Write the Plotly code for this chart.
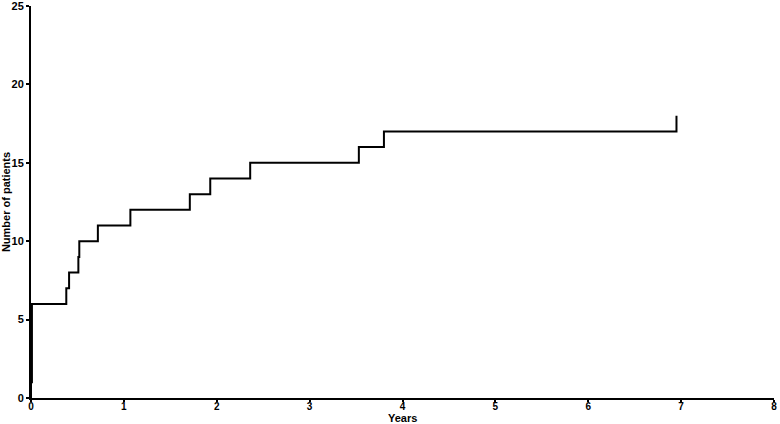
import plotly.graph_objects as go

# Cumulative number of patients over time (step curve)
anos = [0, 0, 0.01, 0.38, 0.41, 0.51, 0.52, 0.72, 1.07, 1.71, 1.93, 2.36, 3.53, 3.80, 6.95]
pacientes = [0, 1, 6, 7, 8, 9, 10, 11, 12, 13, 14, 15, 16, 17, 18]

ticks_x = [0, 1, 2, 3, 4, 5, 6, 7, 8]
ticks_y = [0, 5, 10, 15, 20, 25]

fonte = dict(family='Liberation Sans, Arial, sans-serif', size=11, color='black', weight='bold')
fonte_x = dict(fonte, size=10)

fig = go.Figure()

fig.add_trace(
    go.Scatter(
        x=anos,
        y=pacientes,
        mode='lines',
        line=dict(color='black', width=2, shape='hv'),
        showlegend=False,
        hoverinfo='skip'
    )
)

fig.update_layout(
    width=780,
    height=424,
    margin=dict(l=31, r=6, t=6, b=26),
    paper_bgcolor='white',
    plot_bgcolor='white',
    font=fonte
)

# Eixos
fig.update_xaxes(
    range=[0, 8],
    tickvals=ticks_x,
    ticks='outside',
    ticklen=2,
    tickwidth=1.5,
    tickcolor='black',
    showline=True,
    linecolor='black',
    linewidth=2,
    showgrid=False,
    zeroline=False,
    automargin=False,
    ticklabeloverflow='allow',
    ticklabelstandoff=-4,
    tickfont=fonte_x
)

# título do eixo x como anotação, logo abaixo dos rótulos
fig.add_annotation(
    text='Years',
    xref='paper', yref='paper',
    x=0.5, y=0,
    xanchor='center', yanchor='middle',
    yshift=-20,
    borderpad=0,
    showarrow=False,
    font=fonte
)

fig.update_yaxes(
    range=[0, 25],
    tickvals=ticks_y,
    ticks='outside',
    ticklen=3,
    tickwidth=1.5,
    tickcolor='black',
    showline=True,
    linecolor='black',
    linewidth=2,
    showgrid=False,
    zeroline=False,
    automargin=False,
    ticklabeloverflow='allow',
    tickfont=fonte,
    title=dict(text='Number of patients', font=fonte, standoff=0)
)

# remove a margem padrão do body para o gráfico ocupar a janela toda
fig.write_html(
    "out.html",
    config={'displayModeBar': False},
    post_script="document.body.style.margin='0';"
)
